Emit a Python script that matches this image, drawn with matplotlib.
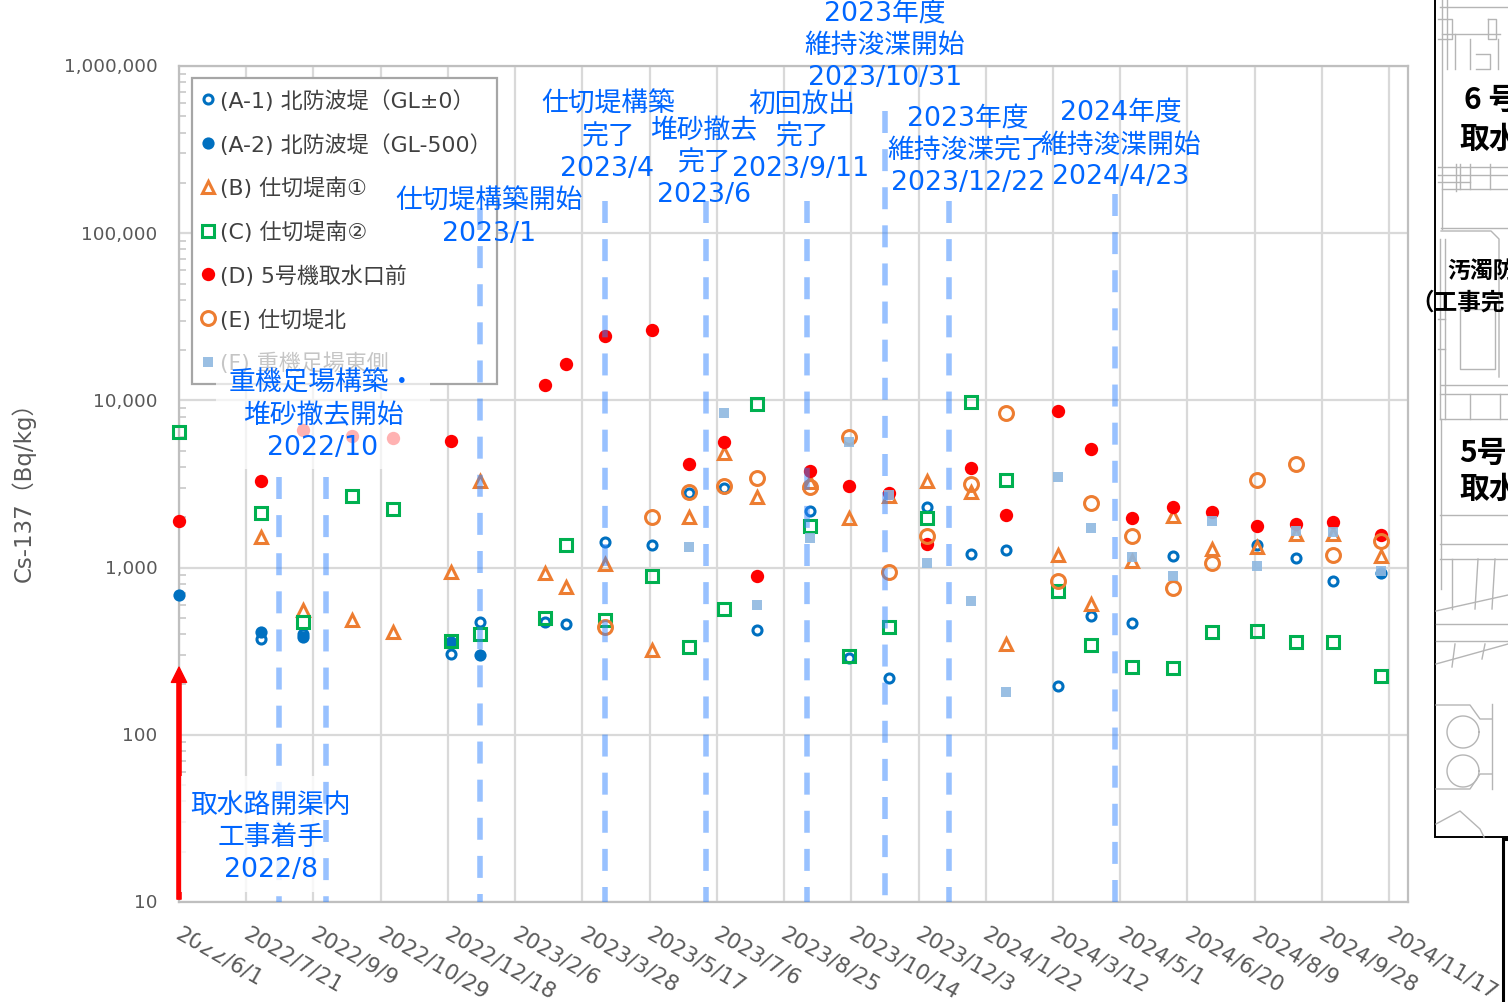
#!/usr/bin/env python3

"""
Cs-137 concentration at the sampling points of the intake channel, with the
construction milestones marked on top and a piece of the site map at the right.
"""

import numpy as np
import pandas as pd
import matplotlib
matplotlib.use("Agg")
import matplotlib.pyplot as plt
from matplotlib.lines import Line2D
from matplotlib.patches import Polygon, Rectangle
from matplotlib.ticker import FuncFormatter, LogLocator, NullFormatter
from matplotlib.transforms import ScaledTranslation

plt.rcParams['font.family'] = ['DejaVu Sans', 'Noto Sans CJK JP']

nan = np.nan

sample_dates = [
    "2022-06-01", "2022-08-01", "2022-09-01", "2022-10-08", "2022-11-07",
    "2022-12-20", "2023-01-11", "2023-02-28", "2023-03-16", "2023-04-14",
    "2023-05-19", "2023-06-15", "2023-07-11", "2023-08-05", "2023-09-13",
    "2023-10-12", "2023-11-11", "2023-12-09", "2024-01-11", "2024-02-06",
    "2024-03-16", "2024-04-09", "2024-05-10", "2024-06-09", "2024-07-08",
    "2024-08-11", "2024-09-09", "2024-10-06", "2024-11-11",
]

a1_values = [nan, 374, 401, nan, nan, 304, 473, 473, 460, 1423, 1365, 2795, 2994, 424, 2180,
             288, 219, 2318, 1205, 1274, 196, 514, 466, 1172, nan, 1365, 1141, 832, nan]
a2_values = [686, 412, 384, nan, nan, 359, 300, nan, nan, nan, nan, nan, nan, nan, nan,
             nan, nan, nan, nan, nan, nan, nan, nan, nan, nan, nan, nan, nan, 929]
b_values = [nan, 1525, 557, 486, 412, 942, 3296, 929, 766, 1052, 321, 2000, 4846, 2645, 3250,
            1980, 2680, 3296, 2832, 349, 1190, 606, 1095, 2036, 1291, 1328, 1588, 1588, 1172]
c_values = [6516, 2120, 473, 2680, 2240, 364, 398, 500, 1365, 486, 891, 335, 566, 9515, 1772,
            296, 441, 1980, 9772, 3342, 725, 344, 254, 251, 412, 417, 359, 359, 225]
d_values = [1900, 3295, 6650, 6120, 5960, 5716, nan, 12360, 16500, 24300, 26400, 4165, 5640, 891, 3782,
            3076, 2793, 1383, 3942, 2064, 8650, 5119, 1980, 2302, 2153, 1772, 1824, 1874, 1567]
e_values = [nan, nan, nan, nan, nan, nan, nan, nan, nan, 441, 2009, 2830, 3076, 3436, 3034,
            6040, 942, 1545, 3162, 8410, 832, 2433, 1545, 755, 1065, 3342, 4165, 1190, 1442]
f_values = [nan, nan, nan, nan, nan, nan, nan, nan, nan, nan, nan, 1328, 8410, 597, 1503,
            5640, 2716, 1065, 631, 180, 3480, 1725, 1157, 891, 1900, 1023, 1655, 1633, 955]

series_labels = [
    "(A-1) 北防波堤（GL±0）", "(A-2) 北防波堤（GL-500）", "(B) 仕切堤南①", "(C) 仕切堤南②",
    "(D) 5号機取水口前", "(E) 仕切堤北", "(F) 重機足場東側",
]

x_tick_labels = [
    "2022/6/1", "2022/7/21", "2022/9/9", "2022/10/29", "2022/12/18", "2023/2/6", "2023/3/28",
    "2023/5/17", "2023/7/6", "2023/8/25", "2023/10/14", "2023/12/3", "2024/1/22", "2024/3/12",
    "2024/5/1", "2024/6/20", "2024/8/9", "2024/9/28", "2024/11/17",
]

# milestone lines: date and the top end of each line as a fraction of the axis height
event_dates = ["2022-08-14", "2022-09-18", "2023-01-11", "2023-04-14", "2023-06-28",
               "2023-09-11", "2023-11-08", "2023-12-26", "2024-04-27"]
event_tops = [0.508, 0.508, 0.83, 0.838, 0.838, 0.839, 0.946, 0.838, 0.847]

# centre x, centre y in image pixels, text
notes = [
    (271, 806, "取水路開渠内"), (271, 838, "工事着手"), (271, 870, "2022/8"),
    (322, 384, "重機足場構築・"), (323, 416, "堆砂撤去開始"), (323, 448, "2022/10"),
    (489, 202, "仕切堤構築開始"), (489, 234, "2023/1"),
    (608, 105, "仕切堤構築"), (608, 137, "完了"), (607, 169, "2023/4"),
    (704, 131, "堆砂撤去"), (704, 163, "完了"), (704, 195, "2023/6"),
    (802, 105, "初回放出"), (802, 137, "完了"), (801, 169, "2023/9/11"),
    (885, 14, "2023年度"), (885, 46, "維持浚渫開始"), (885, 78, "2023/10/31"),
    (968, 119, "2023年度"), (968, 151, "維持浚渫完了"), (968, 183, "2023/12/22"),
    (1121, 113, "2024年度"), (1121, 146, "維持浚渫開始"), (1121, 177, "2024/4/23"),
]

map_labels = [
    (1464, 100, "6 号", 21.5), (1459, 139, "取水", 21.5),
    (1447, 271, "汚濁防", 16.5), (1410, 303, "（工事完", 17),
    (1459, 453, "5号", 21.5), (1459, 489, "取水", 21.5),
]

# rough line work of the site map, image pixels
map_lines = [
    [(1440, 8), (1508, 8)], [(1442, 0), (1442, 230)], [(1447, 0), (1447, 70)],
    [(1438, 20), (1452, 20), (1452, 40), (1438, 40)], [(1488, 20), (1496, 20), (1496, 40), (1488, 40), (1488, 20)],
    [(1442, 35), (1500, 35)], [(1455, 35), (1455, 70)], [(1470, 40), (1470, 70)], [(1498, 40), (1498, 70)],
    [(1476, 55), (1490, 55), (1490, 70), (1476, 70)], [(1438, 168), (1508, 168)], [(1438, 176), (1508, 176)],
    [(1442, 190), (1508, 190)], [(1456, 165), (1456, 192)], [(1490, 165), (1490, 190)],
    [(1460, 165), (1460, 190)], [(1470, 165), (1470, 190)], [(1438, 183), (1470, 183)],
    [(1441, 232), (1491, 232), (1499, 240), (1499, 378)], [(1441, 229), (1508, 229)],
    [(1460, 310), (1460, 370), (1495, 370), (1495, 310), (1460, 310)], [(1441, 386), (1508, 386)],
    [(1445, 240), (1445, 420)], [(1440, 240), (1440, 420)], [(1438, 320), (1445, 320)], [(1438, 350), (1445, 350)],
    [(1440, 395), (1508, 395)], [(1440, 420), (1508, 420)],
    [(1470, 395), (1470, 420)], [(1500, 395), (1500, 420)], [(1440, 516), (1508, 516)],
    [(1441, 420), (1441, 590)], [(1440, 545), (1508, 545)], [(1440, 560), (1508, 560)],
    [(1452, 560), (1452, 610)], [(1478, 560), (1475, 610)], [(1495, 560), (1492, 610)],
    [(1436, 612), (1508, 596)], [(1436, 625), (1508, 625)], [(1436, 642), (1508, 642)],
    [(1436, 665), (1508, 645)], [(1455, 645), (1452, 668)], [(1485, 645), (1482, 660)],
    [(1436, 706), (1470, 706), (1480, 720), (1492, 720)], [(1436, 790), (1470, 790), (1480, 775), (1492, 775)],
    [(1492, 705), (1492, 790)], [(1436, 825), (1460, 812), (1480, 830), (1484, 838)],
]
map_circles = [(1463, 733, 16), (1463, 772, 16)]


def main():
    fig = plt.figure(figsize=(15.08, 10.03), dpi=100)
    ax = fig.add_axes([179 / 1508, 100 / 1003, 1229 / 1508, 836 / 1003])

    dates = pd.to_datetime(sample_dates)
    styles = [
        (a1_values, dict(marker='o', ms=6.5, mew=2.2, mec='#0070C0', mfc='white')),
        (a2_values, dict(marker='o', ms=8.8, mew=0, mfc='#0070C0')),
        (b_values, dict(marker='^', ms=8.5, mew=2.2, mec='#ED7D31', mfc='none')),
        (c_values, dict(marker='s', ms=8, mew=2.2, mec='#00B050', mfc='none')),
        (d_values, dict(marker='o', ms=9.6, mew=0, mfc='#FF0000')),
        (e_values, dict(marker='o', ms=10, mew=2.2, mec='#ED7D31', mfc='none')),
        (f_values, dict(marker='s', ms=7.2, mew=0, mfc='#8FB8E0', alpha=0.9)),
    ]
    handles = []
    for i, (values, style) in enumerate(styles):
        ax.plot(dates, values, ls='none', clip_on=False, zorder=3 + i * 0.1, **style)
        handles.append(Line2D([], [], ls='none', label=series_labels[i], **style))

    ax.set_yscale('log')
    ax.set_ylim(10, 1000000)
    ax.set_xlim(pd.Timestamp("2022-06-01"), pd.Timestamp("2024-12-01"))

    ax.set_xticks(pd.to_datetime(x_tick_labels, format="%Y/%m/%d"))
    ax.set_xticklabels(x_tick_labels, rotation=-30, ha='left', va='top', rotation_mode='anchor',
                       fontsize=15.6, color='#595959')
    ax.yaxis.set_major_locator(LogLocator(base=10, numticks=7))
    ax.yaxis.set_major_formatter(FuncFormatter(lambda v, pos: f"{int(v):,}"))
    ax.yaxis.set_minor_locator(LogLocator(base=10, subs=np.arange(2, 10), numticks=7))
    ax.yaxis.set_minor_formatter(NullFormatter())
    ax.tick_params(axis='x', length=0, pad=15)
    ax.tick_params(axis='y', which='major', length=0, pad=15.5, labelsize=13.2, labelcolor='#595959')
    ax.tick_params(axis='y', which='minor', direction='in', length=5, width=1.2, color='#C8C8C8')

    # small nudges of the tick labels, in points
    for label in ax.get_xticklabels():
        label.set_transform(label.get_transform() + ScaledTranslation(2.5 / 72, 0, fig.dpi_scale_trans))
    for label in ax.get_yticklabels():
        label.set_transform(label.get_transform() + ScaledTranslation(0, 1.2 / 72, fig.dpi_scale_trans))

    ax.grid(True, which='major', color='#D9D9D9', lw=1.6)
    ax.set_axisbelow(True)
    for spine in ax.spines.values():
        spine.set_color('#BFBFBF')
        spine.set_linewidth(1.6)

    ax.add_patch(Rectangle((13 / 1229, 518 / 836), 305 / 1229, 306 / 836, transform=ax.transAxes,
                           fc='white', ec='#A6A6A6', lw=1.6, zorder=4.5, clip_on=False))
    leg = ax.legend(handles=handles, loc='upper left', bbox_to_anchor=(29 / 1229, 813 / 836), borderaxespad=0,
                    fontsize=15.8, labelspacing=1.01, handlelength=0, handletextpad=0.55,
                    borderpad=0, frameon=False)
    for text in leg.get_texts():
        text.set_color('#404040')

    # milestones sit on top of the markers and the legend
    for day, top in zip(pd.to_datetime(event_dates), event_tops):
        ax.plot([day, day], [top, 0], transform=ax.get_xaxis_transform(), color='#3385FF', alpha=0.5,
                lw=4, dashes=(3.96, 2.9), dash_capstyle='butt', clip_on=False, zorder=6)

    ax.annotate("", xy=(dates[0], 254), xytext=(dates[0], 10.4), zorder=7, annotation_clip=False,
                arrowprops=dict(width=3, headwidth=11, headlength=11, color='#FF0000', shrink=0))

    # everything else is placed in image pixels on a sheet above the chart
    ov = fig.add_axes([0, 0, 1, 1], zorder=10)
    ov.set_xlim(0, 1508)
    ov.set_ylim(1003, 0)
    ov.axis('off')

    ov.add_patch(Rectangle((216, 350), 214, 120, fc='white', ec='none', alpha=0.7))
    ov.add_patch(Rectangle((181, 777), 139, 116, fc='white', ec='none', alpha=0.8))
    for x, y, text in notes:
        ov.text(x, y, text, ha='center', va='center', fontsize=19.3, color='#0066FF')

    ov.text(23, 486, "Cs-137（Bq/kg）", rotation=90, ha='center', va='center', fontsize=16.5, color='#595959')

    # a patch of white bites into the first date label
    ov.add_patch(Polygon([(197, 941), (232, 957), (240, 945), (205, 929)], fc='white', ec='none'))

    # site map at the right edge
    ov.add_patch(Rectangle((1435, -2), 80, 840, fc='white', ec='black', lw=1.4))
    for line in map_lines:
        xs, ys = zip(*line)
        ov.plot(xs, ys, color='#B5B5B5', lw=1.0)
    angles = np.linspace(0, 2 * np.pi, 60)
    for cx, cy, r in map_circles:
        ov.plot(cx + r * np.cos(angles), cy + r * np.sin(angles), color='#B5B5B5', lw=1.0)
    for x, y, text, size in map_labels:
        ov.text(x, y, text, ha='left', va='center', fontsize=size, fontweight='bold', color='black',
                family=['Noto Sans CJK JP', 'DejaVu Sans'], clip_on=True)

    ov.add_patch(Rectangle((1503, 840), 10, 170, fc='white', ec='black', lw=2.2, zorder=5))

    fig.savefig("out.png", dpi=100)


if __name__ == "__main__":
    main()
